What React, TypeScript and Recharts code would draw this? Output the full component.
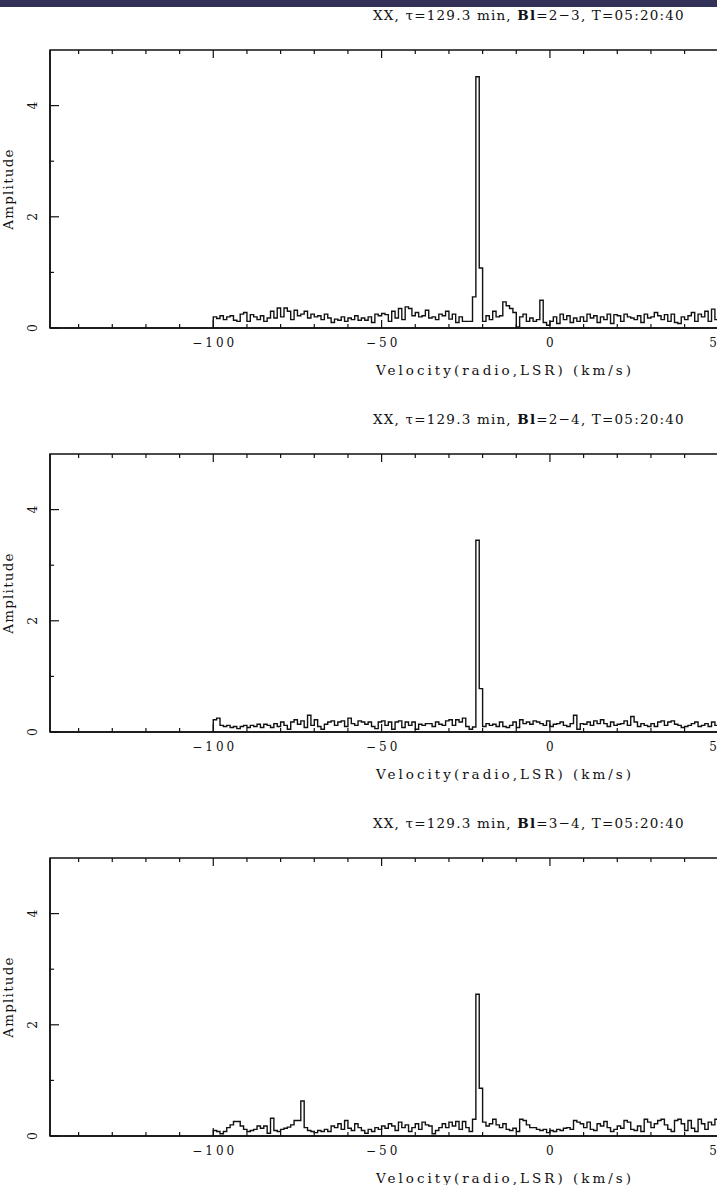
import React from 'react';
import { LineChart, Line, XAxis, YAxis, ReferenceArea } from 'recharts';

// Spectral channels: left edge of the first channel and channel width (km/s)
const FIRST_CHANNEL_VELOCITY = -100;
const CHANNEL_WIDTH = 1;

// Amplitudes per channel, channels -100 ... 51 km/s
const AMP_BL_2_3 = [
  0.20, 0.17, 0.22, 0.15, 0.20, 0.22, 0.14, 0.12, 0.25, 0.28,
  0.12, 0.24, 0.20, 0.15, 0.22, 0.12, 0.18, 0.30, 0.18, 0.36,
  0.20, 0.36, 0.30, 0.15, 0.32, 0.22, 0.25, 0.30, 0.18, 0.25,
  0.20, 0.22, 0.15, 0.25, 0.18, 0.10, 0.16, 0.14, 0.20, 0.12,
  0.18, 0.15, 0.22, 0.14, 0.18, 0.14, 0.20, 0.10, 0.25, 0.22,
  0.26, 0.24, 0.12, 0.30, 0.18, 0.35, 0.15, 0.38, 0.35, 0.22,
  0.28, 0.20, 0.22, 0.32, 0.18, 0.20, 0.15, 0.25, 0.22, 0.30,
  0.16, 0.25, 0.10, 0.20, 0.12, 0.12, 0.12, 0.56, 4.52, 1.08,
  0.12, 0.22, 0.15, 0.30, 0.20, 0.22, 0.47, 0.40, 0.35, 0.28,
  0.02, 0.20, 0.25, 0.12, 0.18, 0.12, 0.15, 0.50, 0.10, 0.05,
  0.12, 0.20, 0.08, 0.25, 0.15, 0.22, 0.10, 0.18, 0.12, 0.20,
  0.12, 0.25, 0.18, 0.22, 0.10, 0.20, 0.15, 0.25, 0.08, 0.24,
  0.22, 0.12, 0.25, 0.20, 0.18, 0.15, 0.22, 0.10, 0.25, 0.18,
  0.20, 0.28, 0.22, 0.15, 0.24, 0.12, 0.25, 0.10, 0.08, 0.20,
  0.15, 0.22, 0.28, 0.12, 0.25, 0.20, 0.30, 0.12, 0.34, 0.15,
  0.20, 0.20,
];

const AMP_BL_2_4 = [
  0.22, 0.25, 0.12, 0.10, 0.12, 0.08, 0.10, 0.06, 0.10, 0.12,
  0.08, 0.12, 0.10, 0.14, 0.08, 0.14, 0.12, 0.08, 0.15, 0.10,
  0.18, 0.12, 0.05, 0.18, 0.22, 0.14, 0.20, 0.08, 0.30, 0.12,
  0.22, 0.10, 0.05, 0.14, 0.18, 0.20, 0.12, 0.18, 0.20, 0.10,
  0.25, 0.15, 0.12, 0.20, 0.18, 0.14, 0.18, 0.10, 0.06, 0.18,
  0.20, 0.12, 0.18, 0.05, 0.18, 0.20, 0.08, 0.18, 0.12, 0.18,
  0.05, 0.14, 0.12, 0.15, 0.15, 0.10, 0.18, 0.14, 0.12, 0.20,
  0.22, 0.12, 0.22, 0.18, 0.25, 0.10, 0.05, 0.09, 3.45, 0.78,
  0.10, 0.15, 0.12, 0.14, 0.10, 0.18, 0.10, 0.08, 0.12, 0.18,
  0.08, 0.22, 0.15, 0.18, 0.14, 0.20, 0.18, 0.15, 0.12, 0.20,
  0.10, 0.14, 0.15, 0.18, 0.12, 0.10, 0.15, 0.30, 0.05, 0.15,
  0.14, 0.18, 0.12, 0.20, 0.15, 0.22, 0.15, 0.10, 0.18, 0.12,
  0.14, 0.15, 0.20, 0.12, 0.28, 0.18, 0.10, 0.15, 0.12, 0.10,
  0.15, 0.10, 0.18, 0.20, 0.12, 0.18, 0.20, 0.14, 0.12, 0.08,
  0.10, 0.12, 0.15, 0.18, 0.10, 0.12, 0.15, 0.10, 0.18, 0.12,
  0.10, 0.12,
];

const AMP_BL_3_4 = [
  0.10, 0.08, 0.04, 0.08, 0.15, 0.20, 0.26, 0.26, 0.18, 0.12,
  0.08, 0.10, 0.12, 0.18, 0.14, 0.18, 0.05, 0.32, 0.10, 0.08,
  0.12, 0.14, 0.16, 0.20, 0.28, 0.28, 0.63, 0.15, 0.10, 0.08,
  0.06, 0.10, 0.08, 0.12, 0.08, 0.18, 0.15, 0.22, 0.12, 0.28,
  0.14, 0.10, 0.22, 0.15, 0.10, 0.05, 0.12, 0.08, 0.15, 0.12,
  0.18, 0.14, 0.22, 0.18, 0.10, 0.25, 0.15, 0.20, 0.08, 0.15,
  0.22, 0.12, 0.25, 0.20, 0.18, 0.04, 0.10, 0.15, 0.22, 0.15,
  0.25, 0.18, 0.26, 0.12, 0.26, 0.15, 0.08, 0.30, 2.55, 0.86,
  0.25, 0.18, 0.22, 0.30, 0.20, 0.15, 0.22, 0.12, 0.10, 0.14,
  0.08, 0.30, 0.28, 0.20, 0.15, 0.15, 0.12, 0.10, 0.12, 0.06,
  0.10, 0.08, 0.12, 0.10, 0.14, 0.15, 0.12, 0.28, 0.25, 0.22,
  0.15, 0.25, 0.12, 0.10, 0.22, 0.18, 0.26, 0.15, 0.08, 0.12,
  0.18, 0.14, 0.28, 0.25, 0.12, 0.10, 0.18, 0.08, 0.30, 0.25,
  0.15, 0.22, 0.28, 0.30, 0.20, 0.12, 0.08, 0.28, 0.30, 0.22,
  0.10, 0.28, 0.14, 0.08, 0.30, 0.22, 0.12, 0.25, 0.20, 0.30,
  0.15, 0.20,
];

const BASELINES = ['2\u22123', '2\u22124', '3\u22124'];
const PANEL_AMPS = [AMP_BL_2_3, AMP_BL_2_4, AMP_BL_3_4];
const TITLE_PREFIX = 'XX, \u03c4=129.3 min, ';
const TITLE_SUFFIX = ', T=05:20:40';
const X_LABEL = 'Velocity(radio,LSR) (km/s)';
const Y_LABEL = 'Amplitude';

const X_TICKS = [-140, -130, -120, -110, -100, -90, -80, -70, -60, -50, -40, -30, -20, -10, 0, 10, 20, 30, 40, 50];
const X_MAJOR_STEP = 50;
const Y_TICKS = [0, 1, 2, 3, 4];
const Y_MAJOR_STEP = 2;
const X_DOMAIN: [number, number] = [-148.5, 52];
const Y_DOMAIN: [number, number] = [0, 5];

// layout
const PAGE_W = 717;
const PAGE_H = 1185;
const PANEL_TOPS = [0, 404, 808];
const MARGIN_TOP = 50;
const Y_AXIS_W = 50;
const PLOT_H = 278;
const PLOT_W = 675;
const X_AXIS_H = 55;
const CHART_W = Y_AXIS_W + PLOT_W;
const CHART_H = MARGIN_TOP + PLOT_H + X_AXIS_H;
const LABEL_CENTER_X = 505;
const TITLE_LEFT_X = 373;
const INK = '#111';
const FONT = '"DejaVu Serif", "Liberation Serif", serif';

const fmt = (v: number) => (v < 0 ? '\u2212' + Math.abs(v) : String(v));

function buildSteps(amps: number[]) {
  const pts: { v: number; a: number }[] = [{ v: FIRST_CHANNEL_VELOCITY, a: 0 }];
  amps.forEach((a, i) => pts.push({ v: FIRST_CHANNEL_VELOCITY + i * CHANNEL_WIDTH, a }));
  pts.push({ v: FIRST_CHANNEL_VELOCITY + amps.length * CHANNEL_WIDTH, a: amps[amps.length - 1] });
  return pts;
}

const XTick = (props: any) => {
  const { x, y, payload } = props;
  const v = payload.value;
  const major = v % X_MAJOR_STEP === 0;
  const len = major ? 8 : 4;
  return (
    <g>
      <line x1={x} x2={x} y1={y} y2={y - len} stroke={INK} strokeWidth={1.2} />
      <line x1={x} x2={x} y1={y - PLOT_H} y2={y - PLOT_H + len} stroke={INK} strokeWidth={1.2} />
      {major && (
        <text x={x + 1.5} y={y + 18.5} textAnchor="middle" fontFamily={FONT} fontSize={12} letterSpacing={3} fill={INK}>
          {fmt(v)}
        </text>
      )}
    </g>
  );
};

const YTick = (props: any) => {
  const { x, y, payload } = props;
  const v = payload.value;
  const major = v % Y_MAJOR_STEP === 0;
  const len = major ? 9 : 4;
  return (
    <g>
      <line x1={x} x2={x + len} y1={y} y2={y} stroke={INK} strokeWidth={1.2} />
      {major && (
        <text
          transform={`translate(${x - 13},${y}) rotate(-90)`}
          textAnchor="middle"
          fontFamily={FONT}
          fontSize={12.5}
          fill={INK}
        >
          {fmt(v)}
        </text>
      )}
    </g>
  );
};

const Panel = ({ index }: { index: number }) => {
  const data = buildSteps(PANEL_AMPS[index]);
  const top = PANEL_TOPS[index];
  return (
    <div style={{ position: 'absolute', left: 0, top, width: PAGE_W, height: CHART_H }}>
      <div style={{ position: 'absolute', left: 0, top: 0 }}>
        <LineChart width={CHART_W} height={CHART_H} data={data} margin={{ top: MARGIN_TOP, right: 0, bottom: 0, left: 0 }}>
          <XAxis
            dataKey="v"
            type="number"
            domain={X_DOMAIN}
            ticks={X_TICKS}
            interval={0}
            allowDataOverflow
            height={X_AXIS_H}
            tickSize={0}
            tickMargin={0}
            tickLine={false}
            axisLine={{ stroke: INK, strokeWidth: 1.5 }}
            tick={(p: any) => <XTick {...p} />}
          />
          <YAxis
            type="number"
            domain={Y_DOMAIN}
            ticks={Y_TICKS}
            interval={0}
            allowDataOverflow
            width={Y_AXIS_W}
            tickSize={0}
            tickMargin={0}
            tickLine={false}
            axisLine={{ stroke: INK, strokeWidth: 1.5 }}
            tick={(p: any) => <YTick {...p} />}
          />
          <ReferenceArea
            x1={X_DOMAIN[0]}
            x2={X_DOMAIN[1]}
            y1={Y_DOMAIN[0]}
            y2={Y_DOMAIN[1]}
            fill="none"
            fillOpacity={0}
            stroke={INK}
            strokeWidth={1.5}
            ifOverflow="visible"
          />
          <Line
            type="stepAfter"
            dataKey="a"
            stroke={INK}
            strokeWidth={1.4}
            dot={false}
            activeDot={false}
            isAnimationActive={false}
          />
        </LineChart>
      </div>
      <svg width={PAGE_W} height={CHART_H} style={{ position: 'absolute', left: 0, top: 0, pointerEvents: 'none' }}>
        <text x={TITLE_LEFT_X} y={MARGIN_TOP - 30} textAnchor="start" fontFamily={FONT} fontSize={13.5} letterSpacing={1.2} fill={INK}>
          {TITLE_PREFIX}
          <tspan fontWeight="bold">Bl</tspan>
          {'=' + BASELINES[index] + TITLE_SUFFIX}
        </text>
        <text x={LABEL_CENTER_X} y={MARGIN_TOP + PLOT_H + 47} textAnchor="middle" fontFamily={FONT} fontSize={13.5} letterSpacing={3} fill={INK}>
          {X_LABEL}
        </text>
        <text
          transform={`translate(12.5,${MARGIN_TOP + PLOT_H / 2}) rotate(-90)`}
          textAnchor="middle"
          fontFamily={FONT}
          fontSize={13.5}
          letterSpacing={1.2}
          fill={INK}
        >
          {Y_LABEL}
        </text>
      </svg>
    </div>
  );
}

export default function App() {
  return (
    <div
      style={{
        position: 'absolute',
        left: 0,
        top: 0,
        width: PAGE_W,
        height: PAGE_H,
        overflow: 'hidden',
        background: '#fff',
      }}
    >
      <div style={{ position: 'absolute', left: 0, top: 0, width: PAGE_W, height: 7, background: '#323259' }} />
      {PANEL_AMPS.map((_, i) => (
        <Panel key={i} index={i} />
      ))}
    </div>
  );
}
